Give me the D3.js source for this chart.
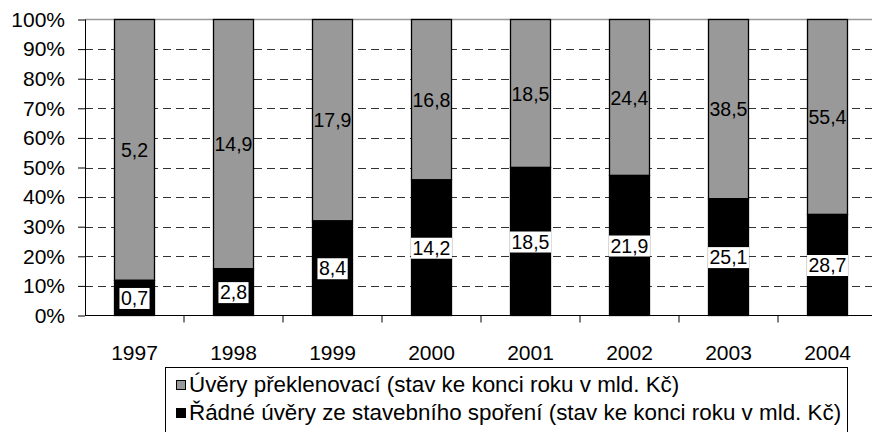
<!DOCTYPE html>
<html>
<head>
<meta charset="utf-8">
<style>
  body { margin: 0; background: #fff; }
  svg { display: block; font-family: "Liberation Sans", Arial, sans-serif; }
</style>
</head>
<body>
<svg id="chart" width="872" height="432"></svg>
<script src="https://cdn.jsdelivr.net/npm/d3@7"></script>
<script>

var years = ["1997", "1998", "1999", "2000", "2001", "2002", "2003", "2004"];
var radne = [0.7, 2.8, 8.4, 14.2, 18.5, 21.9, 25.1, 28.7];
var preklenovaci = [5.2, 14.9, 17.9, 16.8, 18.5, 24.4, 38.5, 55.4];
var yTicks = [0, 0.1, 0.2, 0.3, 0.4, 0.5, 0.6, 0.7, 0.8, 0.9, 1];
var legendLabels = [
  "Úvěry překlenovací (stav ke konci roku v mld. Kč)",
  "Řádné úvěry ze stavebního spoření (stav ke konci roku v mld. Kč)"
];

var svg = d3.select("#chart"),
    plotLeft = 85, plotTop = 19.5, plotBottom = 315.5, step = 99,
    barW = 40;

var x = d3.scaleBand()
    .domain(years)
    .range([plotLeft, plotLeft + step * years.length])
    .padding(0);

var y = d3.scaleLinear()
    .domain([0, 1])
    .range([plotBottom, plotTop]);

var fmt = function(v) { return String(v).replace(".", ","); };

// gridlines
svg.append("g").selectAll("line")
    .data(yTicks.filter(function(t) { return t > 0 && t < 1; }))
  .enter().append("line")
    .attr("x1", plotLeft).attr("x2", x.range()[1])
    .attr("y1", function(d) { return Math.round(y(d)) + 0.5; })
    .attr("y2", function(d) { return Math.round(y(d)) + 0.5; })
    .attr("stroke", "#333")
    .attr("stroke-dasharray", "8,5");

// top border
svg.append("line")
    .attr("x1", plotLeft).attr("x2", x.range()[1])
    .attr("y1", y(1)).attr("y2", y(1))
    .attr("stroke", "#999").attr("stroke-width", 1.5);

// bars
var data = years.map(function(yr, i) {
  var tot = radne[i] + preklenovaci[i];
  return {year: yr, r: radne[i], p: preklenovaci[i], share: radne[i] / tot};
});

var bars = svg.append("g").selectAll("g")
    .data(data)
  .enter().append("g");

bars.append("rect")
    .attr("x", function(d) { return x(d.year) + (x.bandwidth() - barW) / 2; })
    .attr("width", barW)
    .attr("y", y(1))
    .attr("height", function(d) { return y(d.share) - y(1); })
    .attr("fill", "#999999")
    .attr("stroke", "#000").attr("stroke-width", 1.3);

bars.append("rect")
    .attr("x", function(d) { return x(d.year) + (x.bandwidth() - barW) / 2; })
    .attr("width", barW)
    .attr("y", function(d) { return y(d.share); })
    .attr("height", function(d) { return y(0) - y(d.share); })
    .attr("fill", "#000")
    .attr("stroke", "#000").attr("stroke-width", 1.3);

// grey labels
bars.append("text")
    .attr("x", function(d) { return x(d.year) + x.bandwidth() / 2; })
    .attr("y", function(d) { return y((1 + d.share) / 2); })
    .attr("dy", "0.36em")
    .attr("text-anchor", "middle")
    .attr("font-size", 19.5)
    .text(function(d) { return fmt(d.p); });

// black labels with white box
bars.each(function(d) {
  var g = d3.select(this),
      cx = x(d.year) + x.bandwidth() / 2,
      cy = y(d.share / 2);
  var t = g.append("text")
      .attr("x", cx).attr("y", cy)
      .attr("dy", "0.36em")
      .attr("text-anchor", "middle")
      .attr("font-size", 19.5)
      .text(fmt(d.r));
  var b = t.node().getBBox();
  g.insert("rect", function() { return t.node(); })
      .attr("x", b.x - 1.5).attr("y", b.y + 1)
      .attr("width", b.width + 3).attr("height", b.height - 1)
      .attr("fill", "#fff");
});

// y axis
var yAxis = svg.append("g")
    .attr("transform", "translate(" + plotLeft + ",0)")
    .call(d3.axisLeft(y).tickValues(yTicks).tickSize(7).tickPadding(13)
      .tickFormat(function(d) { return Math.round(d * 100) + "%"; }));
yAxis.selectAll("text").attr("font-size", 21).attr("fill", "#000")
    .attr("font-family", "Liberation Sans, Arial, sans-serif");
yAxis.selectAll("line").attr("stroke", "#000");
yAxis.select(".domain").attr("stroke", "#000").attr("d", "M0.5," + plotTop + "V" + plotBottom);

// x axis
var xAxis = svg.append("g")
    .attr("transform", "translate(0," + plotBottom + ")");
xAxis.append("line")
    .attr("x1", plotLeft).attr("x2", x.range()[1])
    .attr("stroke", "#000");
xAxis.selectAll("line.tk")
    .data(years)
  .enter().append("line")
    .attr("x1", function(d) { return x(d) + x.bandwidth(); })
    .attr("x2", function(d) { return x(d) + x.bandwidth(); })
    .attr("y1", 0).attr("y2", 7)
    .attr("stroke", "#000");
xAxis.selectAll("text")
    .data(years)
  .enter().append("text")
    .attr("x", function(d) { return x(d) + x.bandwidth() / 2; })
    .attr("y", 44)
    .attr("text-anchor", "middle")
    .attr("font-size", 21)
    .text(function(d) { return d; });

// legend
var legend = svg.append("g");
legend.append("rect")
    .attr("x", 165.5).attr("y", 367.5)
    .attr("width", 682).attr("height", 80)
    .attr("fill", "#fff").attr("stroke", "#000");
var colors = ["#999999", "#000"];
legendLabels.forEach(function(l, i) {
  legend.append("rect")
      .attr("x", 176.5).attr("y", 380.5 + i * 28)
      .attr("width", 9).attr("height", 9)
      .attr("fill", colors[i]).attr("stroke", "#000");
  legend.append("text")
      .attr("x", 189).attr("y", 392 + i * 28)
      .attr("font-size", 22.4)
      .text(l);
});

</script>
</body>
</html>
